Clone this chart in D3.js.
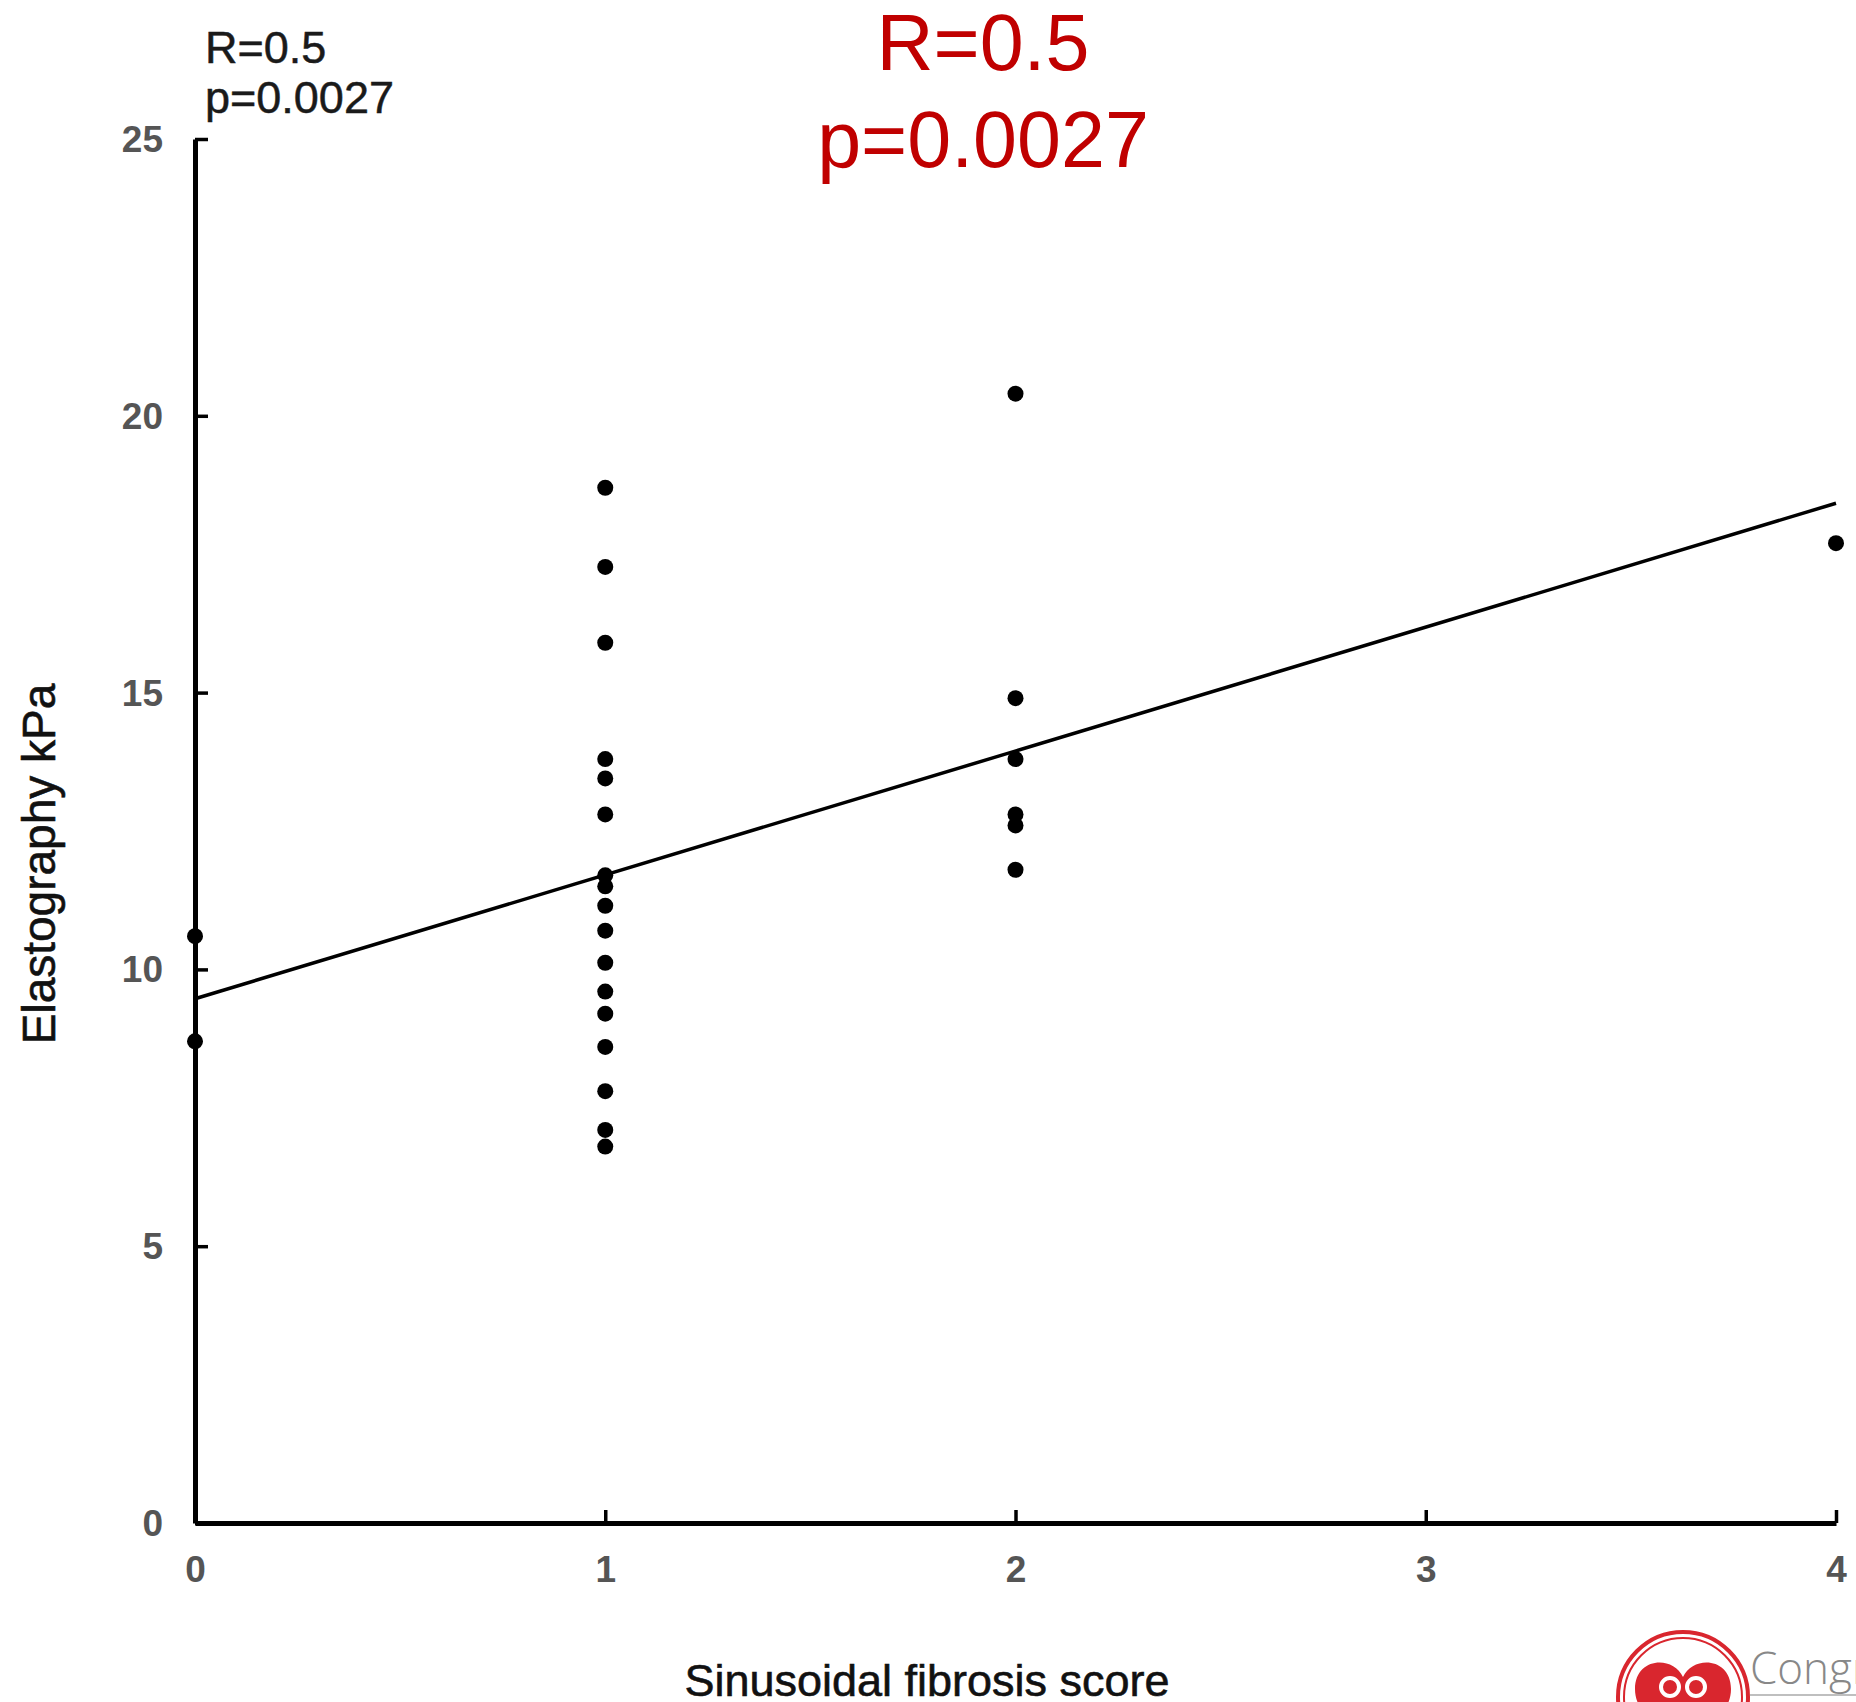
<!DOCTYPE html>
<html>
<head>
<meta charset="utf-8">
<script src="https://cdn.jsdelivr.net/npm/d3@7"></script>
<style>
  html, body { margin: 0; padding: 0; background: #fff; }
  svg { display: block; font-family: "Liberation Sans", Arial, sans-serif; }
</style>
</head>
<body>
<svg id="chart" width="1856" height="1702"></svg>
<script>
// elastography (kPa), grouped by sinusoidal fibrosis score
const kpaScore0 = [10.6, 8.7];
const kpaScore1 = [18.7, 17.27, 15.9, 13.8, 13.45, 12.8, 11.7, 11.5, 11.15, 10.7, 10.12, 9.6, 9.2, 8.6, 7.8, 7.1, 6.8];
const kpaScore2 = [20.4, 14.9, 13.8, 12.8, 12.6, 11.8];
const kpaScore4 = [17.7];

// regression line end points [score, kPa]
const fitLine = [[0, 9.47], [4, 18.42]];

const xTicks = [0, 1, 2, 3, 4];
const yTicks = [0, 5, 10, 15, 20, 25];
const statLines = ["R=0.5", "p=0.0027"];

const points = []
  .concat(kpaScore0.map(v => [0, v]))
  .concat(kpaScore1.map(v => [1, v]))
  .concat(kpaScore2.map(v => [2, v]))
  .concat(kpaScore4.map(v => [4, v]));

const svg = d3.select("#chart");

const x = d3.scaleLinear().domain([0, 4]).range([195, 1836]);
const y = d3.scaleLinear().domain([0, 25]).range([1523, 139]);

// axes: ticks point inward
const yAxis = svg.append("g")
  .attr("transform", `translate(${x(0)},0)`)
  .call(d3.axisLeft(y).tickValues(yTicks).tickFormat(d3.format("d"))
    .tickSizeInner(-13).tickSizeOuter(0).tickPadding(32));

const xAxis = svg.append("g")
  .attr("transform", `translate(0,${y(0)})`)
  .call(d3.axisBottom(x).tickValues(xTicks).tickFormat(d3.format("d"))
    .tickSizeInner(-13).tickSizeOuter(0).tickPadding(33));

[yAxis, xAxis].forEach(g => {
  g.select(".domain").attr("stroke", "#000").attr("stroke-width", 5);
  g.selectAll(".tick line").attr("stroke", "#000").attr("stroke-width", 3.5);
  g.selectAll(".tick text")
    .attr("fill", "#555")
    .style("font-size", "37px")
    .style("font-weight", "bold")
    .style("font-family", "'Liberation Sans', Arial, sans-serif");
});
yAxis.selectAll(".tick text").attr("dy", "0.34em");

// regression line
svg.append("path")
  .datum(fitLine)
  .attr("fill", "none")
  .attr("stroke", "#000")
  .attr("stroke-width", 3.5)
  .attr("d", d3.line().x(d => x(d[0])).y(d => y(d[1])));

// points
svg.append("g")
  .selectAll("circle")
  .data(points)
  .join("circle")
  .attr("cx", d => x(d[0]))
  .attr("cy", d => y(d[1]))
  .attr("r", 8)
  .attr("fill", "#000");

// axis titles
svg.append("text")
  .attr("x", 927)
  .attr("y", 1696)
  .attr("text-anchor", "middle")
  .attr("fill", "#111")
  .attr("stroke", "#111")
  .attr("stroke-width", 0.6)
  .style("font-size", "45px")
  .text("Sinusoidal fibrosis score");

svg.append("text")
  .attr("transform", "translate(55,864) rotate(-90)")
  .attr("text-anchor", "middle")
  .attr("fill", "#111")
  .attr("stroke", "#111")
  .attr("stroke-width", 0.6)
  .style("font-size", "46px")
  .text("Elastography kPa");

// small stats label, top left
svg.append("g")
  .selectAll("text")
  .data(statLines)
  .join("text")
  .attr("x", 205)
  .attr("y", (d, i) => 63 + i * 50)
  .attr("fill", "#1a1a1a")
  .attr("stroke", "#1a1a1a")
  .attr("stroke-width", 0.5)
  .style("font-size", "45px")
  .text(d => d);

// big red stats label, top centre
svg.append("g")
  .selectAll("text")
  .data(statLines)
  .join("text")
  .attr("x", 983)
  .attr("y", (d, i) => 70 + i * 97)
  .attr("text-anchor", "middle")
  .attr("fill", "#C00000")
  .style("font-size", "79px")
  .text(d => d);

// logo at the bottom right (cut off by the frame)
const logo = svg.append("g").attr("transform", "translate(1683,1697)");
logo.append("circle").attr("r", 65).attr("fill", "#fff").attr("stroke", "#d9262e").attr("stroke-width", 4);
logo.append("circle").attr("r", 59).attr("fill", "none").attr("stroke", "#d9262e").attr("stroke-width", 2);
logo.append("path")
  .attr("fill", "#d9262e")
  .attr("d", "M0,-20 C-10,-42 -48,-40 -48,-8 C-48,18 -20,34 0,50 C20,34 48,18 48,-8 C48,-40 10,-42 0,-20 Z");
logo.append("circle").attr("cx", -13).attr("cy", -10).attr("r", 9).attr("fill", "none").attr("stroke", "#fff").attr("stroke-width", 4);
logo.append("circle").attr("cx", 13).attr("cy", -10).attr("r", 9).attr("fill", "none").attr("stroke", "#fff").attr("stroke-width", 4);
svg.append("text")
  .attr("x", 1750)
  .attr("y", 1684)
  .attr("fill", "#888")
  .style("font-size", "44px")
  .style("font-family", "'Open Sans', 'Liberation Sans', sans-serif")
  .style("font-weight", 300)
  .text("Congress");
svg.append("line")
  .attr("x1", 1750).attr("x2", 1856)
  .attr("y1", 1695).attr("y2", 1695)
  .attr("stroke", "#aaa").attr("stroke-width", 1.5);
</script>
</body>
</html>
